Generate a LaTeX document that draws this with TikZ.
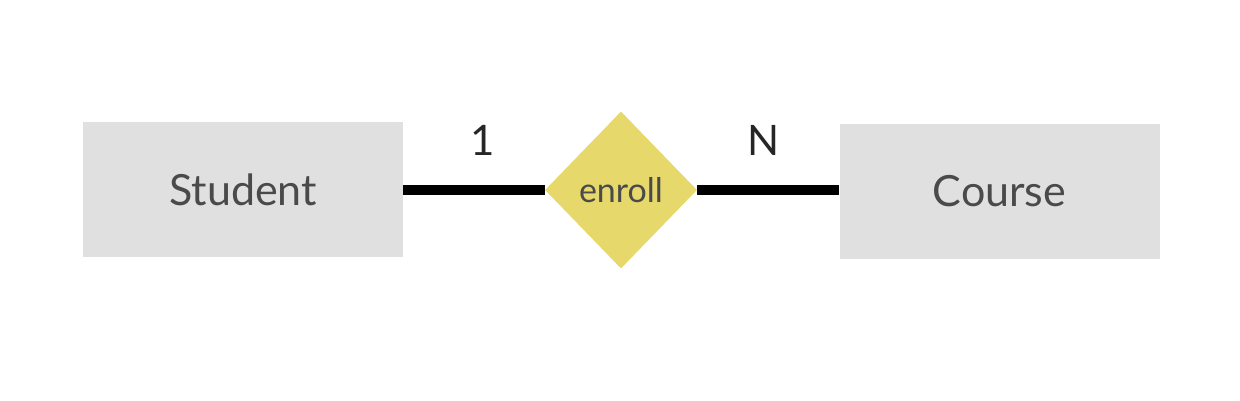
\documentclass[tikz,border=0pt]{standalone}
\usepackage{fontspec}
\setmainfont{Lato}
\usetikzlibrary{shapes.geometric}
\definecolor{boxgray}{HTML}{E0E0E0}
\definecolor{relyellow}{HTML}{E6D86B}
\definecolor{txtgray}{HTML}{4A4A4A}
\begin{document}
\begin{tikzpicture}[x=1pt,y=-1pt,
  entity/.style={fill=boxgray,draw=none,minimum width=320pt,minimum height=135pt,inner sep=0pt,
    font=\fontsize{43}{43}\selectfont,text=txtgray},
  relation/.style={diamond,fill=relyellow,draw=none,minimum width=152pt,minimum height=157pt,inner sep=0pt,
    font=\fontsize{34}{34}\selectfont,text=txtgray},
  link/.style={line width=10pt,black},
  card/.style={font=\fontsize{42}{42}\selectfont,text=black!85}]
\useasboundingbox (0,0) rectangle (1240,400);
\node[entity] (student) at (243,189.5) {Student};
\node[entity] (course) at (999.5,191) {Course};
\node[relation] (enroll) at (621,190) {enroll};
\draw[link] (student.east |- 0,190) -- (enroll.west);
\draw[link] (enroll.east) -- (course.west |- 0,190);
\node[card] (one) at (483,140) {1};
\node[card] (many) at (764,140) {N};
\end{tikzpicture}
\end{document}
